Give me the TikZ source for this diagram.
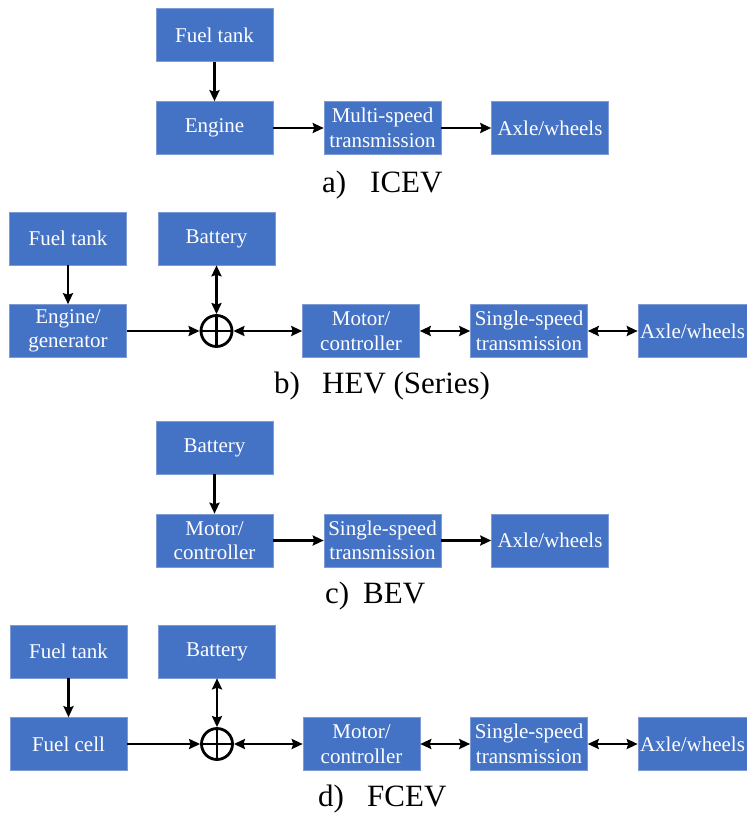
\documentclass[tikz,border=0pt]{standalone}
\usepackage{fontspec}
\setmainfont{Liberation Serif}
\usetikzlibrary{arrows.meta}
\definecolor{boxblue}{HTML}{4472C4}
\definecolor{boxedge}{HTML}{7E9BD6}
\tikzset{
  blk/.style={rectangle, fill=boxblue, draw=boxedge, line width=0.6pt, text=white,
    font=\fontsize{21}{24.5}\selectfont, align=center, inner sep=0pt,
    minimum width=117pt, minimum height=53pt},
  arr/.style={line width=2.8pt, -{Stealth[length=11pt,width=10pt,inset=1.5pt]}},
  darr/.style={line width=2.8pt, {Stealth[length=11pt,width=10pt,inset=1.5pt]}-{Stealth[length=11pt,width=10pt,inset=1.5pt]}},
  sumc/.style={circle, draw, line width=2.8pt, minimum size=31pt, inner sep=0pt},
  captxt/.style={font=\fontsize{31}{33}\selectfont, anchor=base west, inner sep=0pt}
}
\newcommand{\plussign}[1]{\draw[line width=2.6pt] (#1.north) -- (#1.south) (#1.west) -- (#1.east);}
\begin{document}
\begin{tikzpicture}[x=1pt,y=-1pt]
\useasboundingbox (0,0) rectangle (747,814);
% a) ICEV
\node[blk] (aft) at (214.5,35) {Fuel tank};
\node[blk] (aeng) at (214.5,128) {Engine};
\node[blk] (atr) at (382.5,128) {Multi-speed\\transmission};
\node[blk] (aax) at (550,128) {Axle/wheels};
\draw[arr] (aft) -- (aeng);
\draw[arr] (aeng) -- (atr);
\draw[arr] (atr) -- (aax);
\node[captxt] (acl) at (322,192) {a)};
\node[captxt] (acn) at (370,192) {ICEV};
% b) HEV
\node[blk] (bft) at (68,238.5) {Fuel tank};
\node[blk] (bbat) at (216.5,238.5) {Battery};
\node[blk] (beng) at (68,331) {Engine/\\generator};
\node[sumc] (bsum) at (216.5,331) {};
\plussign{bsum}
\node[blk] (bmot) at (361,331) {Motor/\\controller};
\node[blk] (btr) at (529,331) {Single-speed\\transmission};
\node[blk, minimum width=109pt] (bax) at (692.5,331) {Axle/wheels};
\draw[arr] (bft) -- (beng);
\draw[darr] (bbat) -- (bsum);
\draw[arr] (beng) -- (bsum);
\draw[darr] (bsum) -- (bmot);
\draw[darr] (bmot) -- (btr);
\draw[darr] (btr) -- (bax);
\node[captxt] (bcl) at (274,393) {b)};
\node[captxt] (bcn) at (322,393) {HEV (Series)};
% c) BEV
\node[blk] (cbat) at (214.5,447.5) {Battery};
\node[blk] (cmot) at (214.5,540.5) {Motor/\\controller};
\node[blk] (ctr) at (382.5,540.5) {Single-speed\\transmission};
\node[blk] (cax) at (550,540.5) {Axle/wheels};
\draw[arr] (cbat) -- (cmot);
\draw[arr] (cmot) -- (ctr);
\draw[arr] (ctr) -- (cax);
\node[captxt] (ccl) at (325,603) {c)};
\node[captxt] (ccn) at (363,603) {BEV};
% d) FCEV
\node[blk] (dft) at (68.5,651.5) {Fuel tank};
\node[blk] (dbat) at (217,651.5) {Battery};
\node[blk] (dfc) at (68.5,744) {Fuel cell};
\node[sumc] (dsum) at (217,744) {};
\plussign{dsum}
\node[blk] (dmot) at (361.5,744) {Motor/\\controller};
\node[blk] (dtr) at (529,744) {Single-speed\\transmission};
\node[blk, minimum width=109pt] (dax) at (692.5,744) {Axle/wheels};
\draw[arr] (dft) -- (dfc);
\draw[darr] (dbat) -- (dsum);
\draw[arr] (dfc) -- (dsum);
\draw[darr] (dsum) -- (dmot);
\draw[darr] (dmot) -- (dtr);
\draw[darr] (dtr) -- (dax);
\node[captxt] (dcl) at (318,806.5) {d)};
\node[captxt] (dcn) at (367,806.5) {FCEV};
\end{tikzpicture}
\end{document}
